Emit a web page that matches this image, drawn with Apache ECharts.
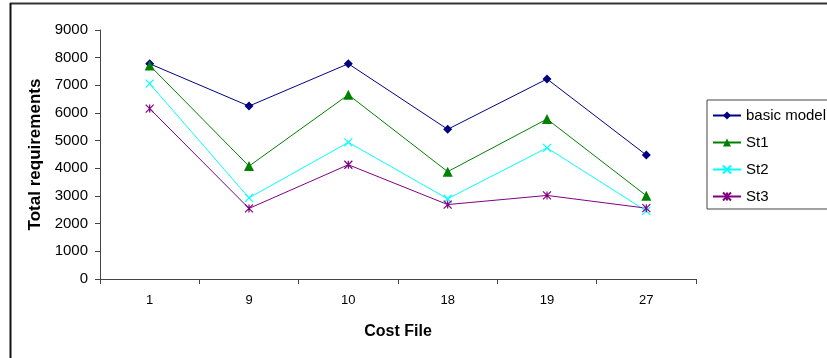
<!DOCTYPE html>
<html><head><meta charset="utf-8">
<script src="https://cdn.jsdelivr.net/npm/echarts@6/dist/echarts.min.js"></script>
<style>html,body{margin:0;padding:0;background:#fff}#c{width:827px;height:358px}</style>
</head><body><div id="c"></div>
<script>
const categories = ['1','9','10','18','19','27'];
const basicModel = [7780, 6250, 7780, 5410, 7230, 4480];
const st1 = [7720, 4080, 6660, 3880, 5780, 3010];
const st2 = [7060, 2930, 4940, 2900, 4740, 2460];
const st3 = [6160, 2550, 4130, 2690, 3020, 2560];
const yTicks = [0,1000,2000,3000,4000,5000,6000,7000,8000,9000];

const font = 'Liberation Sans, Arial, sans-serif';
const xPath = 'path://M0,0L10,10M10,0L0,10';
const starPath = 'path://M0,0L10,10M10,0L0,10M5,0L5,10';
function s(name, data, color, symbol, size, stroke) {
  return {
    name, type: 'line', data, symbol, symbolSize: size,
    lineStyle: {color, width: 1},
    itemStyle: stroke ? {color: 'rgba(0,0,0,0)', borderColor: color, borderWidth: 1.2} : {color},
    emphasis: {disabled: true}, animation: false
  };
}
const chart = echarts.init(document.getElementById('c'));
chart.setOption({
  animation: false,
  grid: {left: 100, right: 131, top: 30, bottom: 79},
  graphic: [
    {type: 'line', shape: {x1: 10, y1: 3.5, x2: 827, y2: 3.5}, style: {stroke: '#333', lineWidth: 2}},
    {type: 'line', shape: {x1: 10.5, y1: 3, x2: 10.5, y2: 358}, style: {stroke: '#111', lineWidth: 2}}
  ],
  legend: {
    orient: 'vertical', left: 707, top: 100, width: 200,
    padding: [8, 40, 5, 5], itemGap: 12, itemWidth: 28, itemHeight: 10,
    borderColor: '#444', borderWidth: 1, backgroundColor: '#fff',
    textStyle: {fontFamily: font, fontSize: 15, lineHeight: 14, color: '#000', padding: [0,0,0,0]},
    data: ['basic model', 'St1', 'St2', 'St3']
  },
  xAxis: {
    type: 'category', data: categories, boundaryGap: true,
    name: 'Cost File', nameLocation: 'middle', nameGap: 45,
    nameTextStyle: {fontFamily: font, fontSize: 16, fontWeight: 'bold', color: '#000'},
    axisLine: {lineStyle: {color: '#444', width: 1}},
    axisTick: {show: true, length: 5, interval: 0, lineStyle: {color: '#444'}},
    axisLabel: {fontFamily: font, fontSize: 13, color: '#000', margin: 15}
  },
  yAxis: {
    type: 'value', min: 0, max: 9000, interval: 1000,
    name: 'Total requirements', nameLocation: 'middle', nameGap: 53,
    nameTextStyle: {fontFamily: font, fontSize: 17, fontWeight: 'bold', color: '#000'},
    axisLine: {show: true, lineStyle: {color: '#444', width: 1}},
    axisTick: {show: true, length: 5, lineStyle: {color: '#444'}},
    splitLine: {show: false},
    axisLabel: {fontFamily: font, fontSize: 15, color: '#000', margin: 12,
      formatter: v => yTicks.includes(v) ? String(v) : ''}
  },
  series: [
    s('basic model', basicModel, '#000080', 'diamond', 9, false),
    s('St1', st1, '#008000', 'triangle', 10, false),
    s('St2', st2, '#00FFFF', xPath, 8, true),
    s('St3', st3, '#800080', starPath, 8, true)
  ]
});
</script></body></html>
